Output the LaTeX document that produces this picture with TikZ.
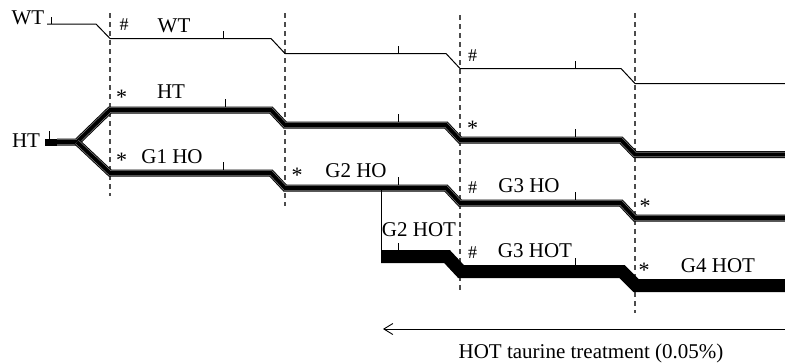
\documentclass[tikz,border=0pt]{standalone}
\usepackage{fontspec}
\setmainfont{Liberation Serif}
\usetikzlibrary{arrows.meta}

\begin{document}
\begin{tikzpicture}[x = 1pt, y = -1pt,
    wtline/.style = {line width = 1pt},
    holine/.style = {line width = 7pt,
        postaction = {draw, gray, line width = 5.2pt},
        postaction = {draw, black, line width = 3.8pt}},
    hotline/.style = {line width = 13pt},
    divider/.style = {dash pattern = on 5pt off 4pt, gray!60!black, line width = 1.1pt},
    tickmark/.style = {line width = 0.8pt},
    lbl/.style = {anchor = base, inner sep = 0pt, font = \fontsize{21}{24}\selectfont},
    sig/.style = {anchor = base, inner sep = 0pt, font = \fontsize{18}{20}\selectfont},
    star/.style = {anchor = north, inner sep = 0pt, font = \fontsize{22}{24}\selectfont}]
    \useasboundingbox (0,0) rectangle (785,362);

    % generation boundaries
    \draw[divider] (110,13) -- (110,196);
    \draw[divider] (285,13) -- (285,206);
    \draw[divider] (460,15) -- (460,291);
    \draw[divider] (635,13) -- (635,313);

    % lineages
    \coordinate (fork) at (77,142);
    \coordinate (split) at (381,188);
    \draw[wtline] (47,24) -- (96,24) -- (110,38.5) -- (271,38.5) -- (285,53.5)
        -- (446,53.5) -- (460,68.5) -- (621,68.5) -- (635,83.5) -- (785,83.5);
    \draw[line width = 7pt] (45,142) -- (57,142);
    \draw[holine] (57,142) -- (fork) -- (110,110) -- (271,110) -- (285,125)
        -- (446,125) -- (460,140) -- (621,140) -- (635,154.5) -- (785,154.5);
    \draw[holine] (fork) -- (110,173) -- (271,173) -- (285,188)
        -- (446,188) -- (460,203) -- (621,203) -- (635,218) -- (785,218);
    \draw[wtline] (split) -- (381,250);
    \draw[hotline] (381,256.5) -- (447,256.5) -- (461,271.5) -- (622,271.5)
        -- (636,285.5) -- (785,285.5);

    % ticks
    \foreach \x/\y in {51/24, 223/38.5, 398/53.5, 575/68.5,
                       49/138.5, 225/106.5, 398/121.5, 575/136.5,
                       223/169.5, 398/184.5, 575/199.5,
                       398/250, 575/265}
        \draw[tickmark] (\x,\y) -- ++(0,-7.5);

    % treatment
    \coordinate (treatEnd) at (785,329);
    \coordinate (treatStart) at (383,329);
    \draw[-{Straight Barb[length = 9pt, width = 11pt]}, line width = 0.9pt] (treatEnd) -- (treatStart);

    % labels
    \node[lbl] (wtIn) at (28,24) {WT};
    \node[lbl] (htIn) at (26,147) {HT};
    \node[lbl] (wt1) at (174,32) {WT};
    \node[lbl] (ht1) at (171,98) {HT};
    \node[lbl] (ho1) at (172,163) {G1 HO};
    \node[lbl] (ho2) at (356,177) {G2 HO};
    \node[lbl] (hot2) at (419,236) {G2 HOT};
    \node[lbl] (ho3) at (529,192) {G3 HO};
    \node[lbl] (hot3) at (535,257) {G3 HOT};
    \node[lbl] (hot4) at (718,272) {G4 HOT};
    \node[lbl] (treat) at (591,358) {HOT taurine treatment (0.05\%)};

    \node[sig] (sWt1) at (124,30) {\#};
    \node[sig] (sWt3) at (472.5,61) {\#};
    \node[sig] (sHo3) at (472.5,193) {\#};
    \node[sig] (sHot3) at (472.5,258) {\#};
    \node[star] (sHt1) at (121.5,90) {*};
    \node[star] (sHo1) at (121.5,153) {*};
    \node[star] (sHo2) at (297,168) {*};
    \node[star] (sHt3) at (472.5,121) {*};
    \node[star] (sHo4) at (645,199) {*};
    \node[star] (sHot4) at (644,263) {*};
\end{tikzpicture}
\end{document}
